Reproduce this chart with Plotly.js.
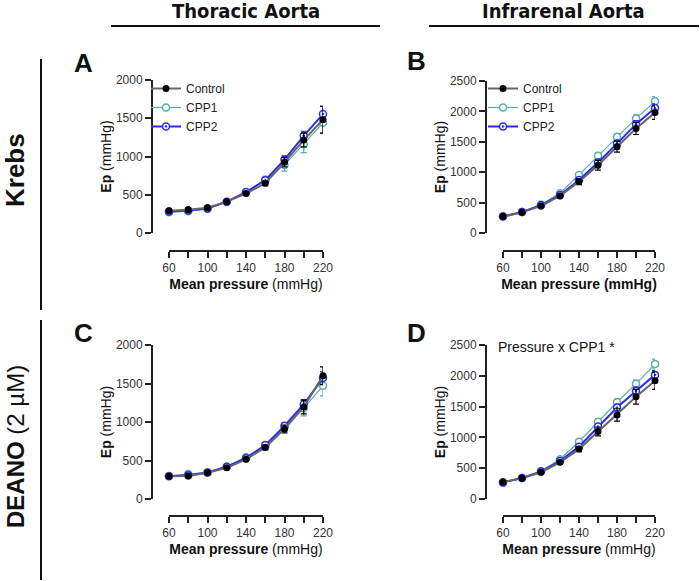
<!DOCTYPE html>
<html>
<head>
<meta charset="utf-8">
<script src="https://cdn.plot.ly/plotly-3.0.1.min.js"></script>
<style>
  html, body { margin: 0; padding: 0; background: #fff; }
  #chart { width: 700px; height: 581px; }
</style>
</head>
<body>
<div id="chart"></div>
<script>
// mean pressure steps (mmHg)
const pressure = [60, 80, 100, 120, 140, 160, 180, 200, 220];
const xTickVals = [60, 80, 100, 120, 140, 160, 180, 200, 220];
const xTickText = ['60', '', '100', '', '140', '', '180', '', '220'];

// A - thoracic, Krebs
const aControl = [290, 305, 330, 410, 515, 650, 925, 1215, 1480];
const aControlErr = [15, 15, 15, 15, 20, 30, 60, 90, 175];
const aCpp1 = [270, 285, 315, 405, 530, 700, 890, 1160, 1440];
const aCpp1Err = [10, 10, 15, 15, 20, 30, 80, 110, 130];
const aCpp2 = [280, 295, 320, 410, 535, 690, 960, 1270, 1555];
const aCpp2Err = [10, 10, 10, 15, 20, 30, 50, 60, 100];

// B - infrarenal, Krebs
const bControl = [270, 340, 445, 610, 845, 1115, 1420, 1720, 1980];
const bControlErr = [10, 15, 20, 25, 50, 80, 90, 100, 110];
const bCpp1 = [275, 345, 470, 655, 955, 1270, 1585, 1885, 2165];
const bCpp1Err = [10, 15, 15, 20, 30, 50, 50, 60, 80];
const bCpp2 = [270, 345, 455, 625, 870, 1160, 1470, 1790, 2055];
const bCpp2Err = [10, 10, 15, 20, 30, 40, 50, 60, 70];

// C - thoracic, DEANO
const cControl = [295, 300, 340, 405, 515, 670, 910, 1195, 1600];
const cControlErr = [10, 10, 15, 20, 20, 30, 50, 90, 115];
const cCpp1 = [300, 325, 345, 420, 545, 680, 930, 1180, 1470];
const cCpp1Err = [10, 10, 15, 15, 20, 30, 50, 100, 130];
const cCpp2 = [295, 310, 345, 420, 530, 700, 950, 1230, 1570];
const cCpp2Err = [10, 10, 10, 15, 20, 30, 40, 60, 80];

// D - infrarenal, DEANO
const dControl = [275, 335, 435, 595, 810, 1095, 1365, 1660, 1920];
const dControlErr = [10, 15, 20, 20, 40, 70, 100, 120, 140];
const dCpp1 = [265, 340, 455, 645, 930, 1255, 1570, 1870, 2190];
const dCpp1Err = [10, 15, 15, 20, 30, 40, 50, 60, 80];
const dCpp2 = [270, 340, 445, 615, 850, 1175, 1485, 1755, 2015];
const dCpp2Err = [10, 10, 15, 20, 30, 40, 50, 60, 70];

const W = 700, H = 581;
const px = v => v / W;
const py = v => 1 - v / H;

const FONT = 'Liberation Sans, Arial, sans-serif';
const GREY = '#666666';
const TEAL = '#5aacac';
const BLUE = '#2a2af0';

function series(xa, ya, ctrl, ctrlErr, cpp1, cpp1Err, cpp2, cpp2Err, legend) {
  const show = !!legend;
  const base = { x: pressure, xaxis: xa, yaxis: ya, type: 'scatter', mode: 'lines+markers',
    cliponaxis: false, showlegend: show, legend: legend || 'legend' };
  return [
    { ...base, y: cpp1, name: 'CPP1', legendrank: 2,
      line: { color: TEAL, width: 1.2 },
      marker: { symbol: 'circle', size: 7, color: '#ffffff', line: { color: TEAL, width: 1.5 } },
      error_y: { type: 'data', array: cpp1Err, color: TEAL, thickness: 1.2, width: 3 } },
    { ...base, y: cpp2, name: 'CPP2', legendrank: 3,
      line: { color: BLUE, width: 2 },
      marker: { symbol: 'circle-dot', size: 7, color: '#ffffff', line: { color: BLUE, width: 1.5 } },
      error_y: { type: 'data', array: cpp2Err, color: BLUE, thickness: 1.2, width: 3 } },
    { ...base, y: ctrl, name: 'Control', legendrank: 1,
      line: { color: GREY, width: 2 },
      marker: { symbol: 'circle', size: 7, color: '#000000' },
      error_y: { type: 'data', array: ctrlErr, color: '#000000', thickness: 1.2, width: 3 } }
  ];
}

function xAxis(x0, x1, yPos, titleHtml) {
  return {
    domain: [px(x0), px(x1)], anchor: 'free', position: py(yPos),
    range: [60, 220], tickvals: xTickVals, ticktext: xTickText,
    showgrid: false, zeroline: false, showline: true, linecolor: '#222', linewidth: 2,
    ticks: 'outside', ticklen: 6, tickwidth: 2, tickcolor: '#222',
    tickfont: { size: 12, color: '#333', family: FONT },
    title: { text: titleHtml, font: { size: 14, color: '#111', family: FONT }, standoff: 4 }
  };
}

function yAxis(yTop, yBot, xPos, max) {
  return {
    domain: [py(yBot), py(yTop)], anchor: 'free', position: px(xPos),
    range: [0, max], dtick: 500,
    showgrid: false, zeroline: false, showline: true, linecolor: '#222', linewidth: 2,
    ticks: 'outside', ticklen: 6, tickwidth: 2, tickcolor: '#222',
    tickfont: { size: 12, color: '#333', family: FONT },
    title: { text: '<b>Ep</b> (mmHg)', font: { size: 14, color: '#111', family: FONT } }
  };
}

const traces = [
  ...series('x', 'y', aControl, aControlErr, aCpp1, aCpp1Err, aCpp2, aCpp2Err, 'legend'),
  ...series('x2', 'y2', bControl, bControlErr, bCpp1, bCpp1Err, bCpp2, bCpp2Err, 'legend2'),
  ...series('x3', 'y3', cControl, cControlErr, cCpp1, cCpp1Err, cCpp2, cCpp2Err, null),
  ...series('x4', 'y4', dControl, dControlErr, dCpp1, dCpp1Err, dCpp2, dCpp2Err, null)
];

const legendStyle = {
  font: { size: 12, color: '#222', family: FONT },
  bgcolor: 'rgba(0,0,0,0)', itemwidth: 30, tracegroupgap: 0,
  xanchor: 'left', yanchor: 'top'
};

const annotation = (x, y, text, size, extra) => ({
  xref: 'paper', yref: 'paper', x: px(x), y: py(y), text: text, showarrow: false,
  xanchor: 'center', yanchor: 'middle',
  font: { size: size, color: '#111', family: FONT }, ...extra
});

const HEAD_FONT = { size: 20, color: '#111', family: 'Liberation Sans Narrow, DejaVu Sans Condensed, Liberation Sans, sans-serif' };

const layout = {
  width: W, height: H,
  margin: { l: 0, r: 0, t: 0, b: 0 },
  paper_bgcolor: '#ffffff', plot_bgcolor: '#ffffff',
  font: { family: FONT, color: '#222' },
  xaxis: xAxis(169, 323, 251, '<b>Mean pressure</b> (mmHg)'),
  yaxis: yAxis(80, 233, 152, 2000),
  xaxis2: xAxis(503, 655, 251, '<b>Mean pressure (mmHg)</b>'),
  yaxis2: yAxis(81, 233, 486, 2500),
  xaxis3: xAxis(169, 323, 516, '<b>Mean pressure</b> (mmHg)'),
  yaxis3: yAxis(345, 499, 152, 2000),
  xaxis4: xAxis(503, 655, 516, '<b>Mean pressure</b> (mmHg)'),
  yaxis4: yAxis(345, 499, 486, 2500),
  legend: { ...legendStyle, x: px(146), y: py(74) },
  legend2: { ...legendStyle, x: px(483), y: py(74) },
  shapes: [
    { type: 'line', xref: 'paper', yref: 'paper', x0: px(111), x1: px(380), y0: py(26), y1: py(26), line: { color: '#111', width: 2 } },
    { type: 'line', xref: 'paper', yref: 'paper', x0: px(429), x1: px(699), y0: py(26), y1: py(26), line: { color: '#111', width: 2 } },
    { type: 'line', xref: 'paper', yref: 'paper', x0: px(41), x1: px(41), y0: py(59), y1: py(310), line: { color: '#111', width: 2 } },
    { type: 'line', xref: 'paper', yref: 'paper', x0: px(41), x1: px(41), y0: py(320), y1: py(580), line: { color: '#111', width: 2 } }
  ],
  annotations: [
    annotation(246, 11, '<b>Thoracic Aorta</b>', 20, { font: HEAD_FONT }),
    annotation(563, 11, '<b>Infrarenal Aorta</b>', 20, { font: HEAD_FONT }),
    annotation(15, 170, '<b>Krebs</b>', 26, { textangle: -90 }),
    annotation(15, 447, '<b>DEANO</b> (2 µM)', 24, { textangle: -90 }),
    annotation(83, 63, '<b>A</b>', 26),
    annotation(416, 61, '<b>B</b>', 26),
    annotation(83, 333, '<b>C</b>', 26),
    annotation(416, 333, '<b>D</b>', 26),
    annotation(496, 347, 'Pressure x CPP1 *', 14, { xanchor: 'left' })
  ]
};

Plotly.newPlot('chart', traces, layout, { displayModeBar: false, responsive: false });
</script>
</body>
</html>
